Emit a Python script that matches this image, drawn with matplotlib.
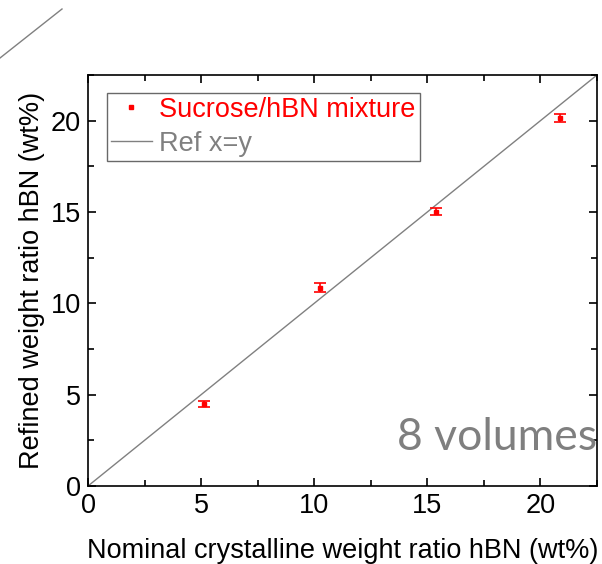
import matplotlib
matplotlib.use("Agg")
import matplotlib.pyplot as plt
from matplotlib.lines import Line2D
from matplotlib.ticker import MultipleLocator

nominal = [5.13, 10.25, 15.37, 20.87]
refined = [4.50, 10.86, 15.02, 20.15]
err = [0.16, 0.26, 0.20, 0.23]
ref_line = [0, 22.5]

plt.rcParams['font.family'] = ['Liberation Sans', 'DejaVu Sans']
FS = 19.5

fig = plt.figure(figsize=(6.02, 5.64), dpi=100)
ax = fig.add_axes([88/602, 78/564, 509/602, 411/564])

ax.plot(ref_line, ref_line, color='#808080', lw=1.0, zorder=2)
ax.errorbar(nominal, refined, yerr=err, fmt='s', color='red', ms=3.5,
            capsize=4, elinewidth=1.2, capthick=1.2, zorder=3)

ax.set_xlim(0, 22.5)
ax.set_ylim(0, 22.5)
ax.xaxis.set_major_locator(MultipleLocator(5))
ax.xaxis.set_minor_locator(MultipleLocator(2.5))
ax.yaxis.set_major_locator(MultipleLocator(5))
ax.yaxis.set_minor_locator(MultipleLocator(2.5))
ax.tick_params(which='both', direction='in', top=True, right=True, labelsize=FS, width=1.2)
ax.tick_params(which='major', length=6, pad=5)
ax.tick_params(which='minor', length=4)
for s in ax.spines.values():
    s.set_linewidth(1.2)

ax.set_xlabel('Nominal crystalline weight ratio hBN (wt%)', fontsize=FS, labelpad=14)
ax.set_ylabel('Refined weight ratio hBN (wt%)', fontsize=FS, labelpad=4)

h_pts = Line2D([], [], ls='none', marker='s', color='red', ms=3)
h_ref = Line2D([], [], color='#808080', lw=1.0)
leg = ax.legend([h_pts, h_ref], ['Sucrose/hBN mixture', 'Ref x=y'], loc='upper left',
                bbox_to_anchor=(0.037, 0.957), borderaxespad=0, fontsize=FS,
                frameon=True, fancybox=False, edgecolor='#444444', handlelength=1.5,
                handletextpad=0.28, borderpad=0.15, labelspacing=0.3)
leg.get_frame().set_linewidth(1.0)
texts = leg.get_texts()
texts[0].set_color('red')
texts[1].set_color('#808080')

ax.text(1.0, 0.088, '8 volumes', transform=ax.transAxes, ha='right', va='baseline',
        fontsize=32, color='#7f7f7f', family=['Lato', 'DejaVu Sans'])

fig.add_artist(Line2D([0/602, 62/602], [1 - 58/564, 1 - 9/564], transform=fig.transFigure,
                      color='#808080', lw=1.0))

fig.savefig('out.png', dpi=100)
